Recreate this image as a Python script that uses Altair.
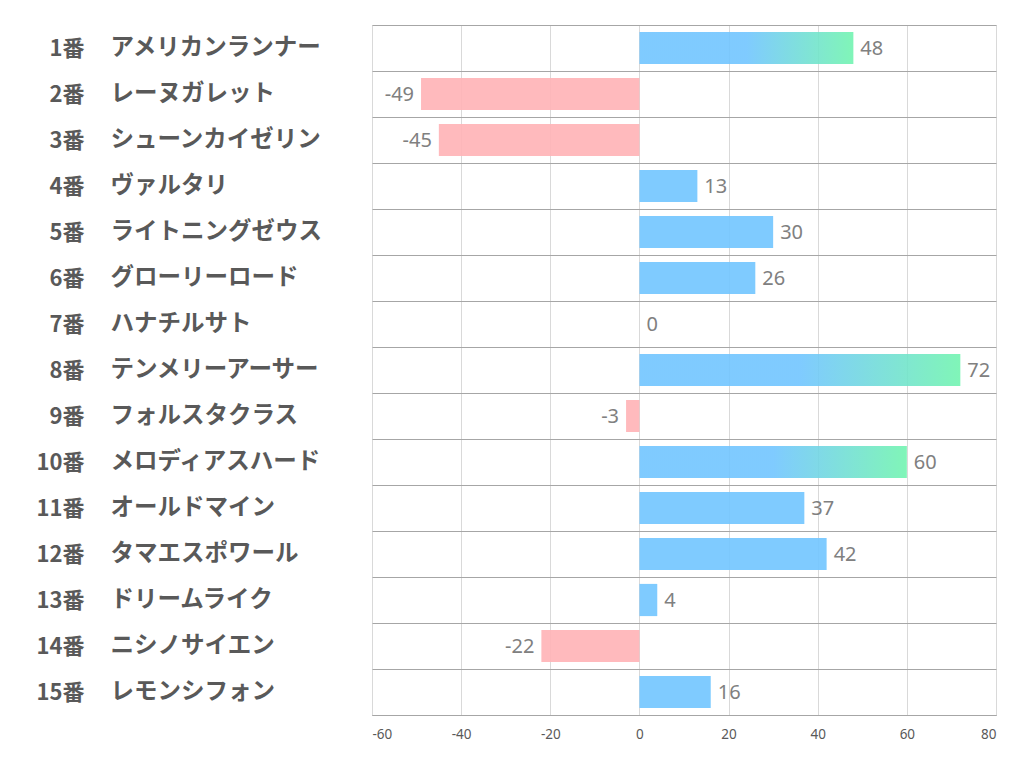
import altair as alt
import pandas as pd

nums = ["1番", "2番", "3番", "4番", "5番", "6番", "7番", "8番", "9番", "10番",
        "11番", "12番", "13番", "14番", "15番"]
names = ["アメリカンランナー", "レーヌガレット", "シューンカイゼリン", "ヴァルタリ",
         "ライトニングゼウス", "グローリーロード", "ハナチルサト", "テンメリーアーサー",
         "フォルスタクラス", "メロディアスハード", "オールドマイン", "タマエスポワール",
         "ドリームライク", "ニシノサイエン", "レモンシフォン"]
values = [48, -49, -45, 13, 30, 26, 0, 72, -3, 60, 37, 42, 4, -22, 16]
x_ticks = [-60, -40, -20, 0, 20, 40, 60, 80]

df = pd.DataFrame({
    "label": [f"{n}|{m}" for n, m in zip(nums, names)],
    "value": values,
    "text": [str(v) for v in values],
})
order = list(df["label"])

BLUE = "#71c5ff"
PINK = "#ffb3b6"
GREEN = "#72f4b0"
GRID_DARK = "#a6a6a6"
GRID_LIGHT = "#d9d9d9"
LABEL = "#595959"
JP = "Noto Sans CJK JP"

xscale = alt.Scale(domain=[-60, 80], nice=False, zero=False)
yscale = alt.Scale(domain=order, paddingInner=0, paddingOuter=0)

xaxis = alt.Axis(values=x_ticks, title=None, ticks=False, tickSize=0,
                 labelExpr="'' + datum.value",
                 labelFontSize=13.5, labelColor=LABEL, labelPadding=12,
                 labelFont="Noto Sans", domainColor=GRID_DARK,
                 gridColor=GRID_LIGHT, grid=True)

yaxis_num = alt.Axis(orient="left", title=None, ticks=False, tickSize=0,
                     domain=False, grid=True, tickBand="extent",
                     gridColor=GRID_DARK, labelExpr="split(datum.label,'|')[0]",
                     labelAlign="right", labelPadding=288, labelFont=JP,
                     labelFontWeight="bold", labelFontSize=22, labelColor=LABEL,
                     labelLimit=0)
yaxis_name = alt.Axis(orient="left", title=None, ticks=False, tickSize=0,
                      domain=False, grid=False,
                      labelExpr="split(datum.label,'|')[1]",
                      labelAlign="left", labelPadding=262, labelFont=JP,
                      labelFontWeight="bold", labelFontSize=23.5, labelColor=LABEL,
                      labelLimit=0)

base = alt.Chart(df)
X = alt.X("value:Q", scale=xscale, axis=xaxis)

bars_plain = base.transform_filter("datum.value < 45").mark_bar(
    height={"band": 0.7}, opacity=0.9
).encode(
    x=X,
    x2=alt.datum(0),
    y=alt.Y("label:N", scale=yscale, sort=order, axis=yaxis_num),
    color=alt.condition("datum.value < 0", alt.value(PINK), alt.value(BLUE)),
)

grad = alt.Gradient(
    gradient="linear",
    stops=[alt.GradientStop(color=BLUE, offset=0),
           alt.GradientStop(color=BLUE, offset=0.5),
           alt.GradientStop(color=GREEN, offset=1)],
    x1=0, x2=1, y1=0, y2=0,
)
bars_grad = base.transform_filter("datum.value >= 45").mark_bar(
    height={"band": 0.7}, opacity=0.9, color=grad
).encode(
    x=X,
    x2=alt.datum(0),
    y=alt.Y("label:N", scale=yscale, sort=order, axis=yaxis_name),
)

text_pos = base.transform_filter("datum.value >= 0").mark_text(
    align="left", baseline="middle", dx=7, dy=1, fontSize=20,
    color="#808080", font="Noto Sans"
).encode(
    x=X,
    y=alt.Y("label:N", scale=yscale, sort=order, axis=None),
    text="text:N",
)
text_neg = base.transform_filter("datum.value < 0").mark_text(
    align="right", baseline="middle", dx=-7, dy=1, fontSize=20,
    color="#808080", font="Noto Sans"
).encode(
    x=X,
    y=alt.Y("label:N", scale=yscale, sort=order, axis=None),
    text="text:N",
)

chart = alt.layer(bars_plain, bars_grad, text_pos, text_neg).resolve_axis(
    y="independent"
).properties(
    width=624, height=690,
    autosize=alt.AutoSizeParams(type="none"),
    padding={"left": 364, "top": 17, "right": 18, "bottom": 50},
    background="white",
).configure_view(stroke=GRID_LIGHT)

chart.save("out.html", embed_options={"renderer": "svg", "actions": False})
